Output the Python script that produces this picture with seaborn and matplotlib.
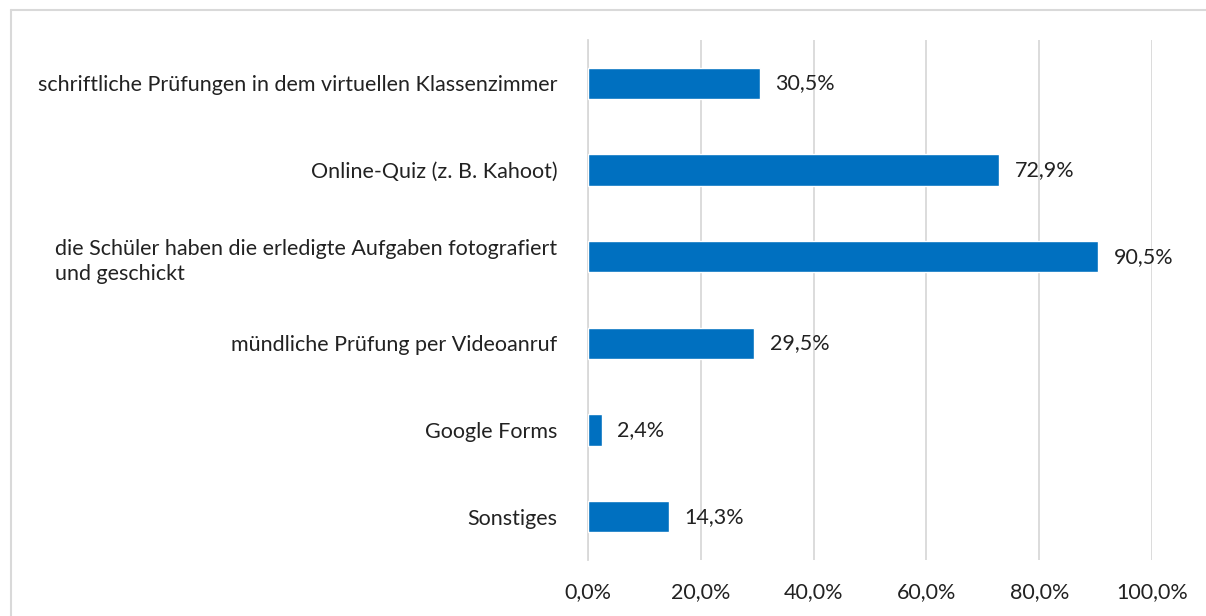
import matplotlib.pyplot as plt
from matplotlib.lines import Line2D
import seaborn as sns
import pandas as pd

# --- DATA ---
categories = [
    "schriftliche Prüfungen in dem virtuellen Klassenzimmer",
    "Online-Quiz (z. B. Kahoot)",
    "die Schüler haben die erledigte Aufgaben fotografiert\nund geschickt",
    "mündliche Prüfung per Videoanruf",
    "Google Forms",
    "Sonstiges",
]
values = [30.5, 72.9, 90.5, 29.5, 2.4, 14.3]
x_ticks = [0, 20, 40, 60, 80, 100]

df = pd.DataFrame({"category": categories, "value": values})

sns.set_style("white")
plt.rcParams['font.family'] = ['Lato', 'DejaVu Sans']
FS = 15.5

fig = plt.figure(figsize=(12.06, 6.16), dpi=100)
ax = fig.add_axes([588 / 1206, 56 / 616, 564 / 1206, 520 / 616])

sns.barplot(data=df, x="value", y="category", orient="h", color="#0070C0",
            width=0.36, saturation=1, ax=ax, zorder=3)

# value labels with comma decimal
labels = [f"{v:.1f}%".replace(".", ",") for v in values]
ax.bar_label(ax.containers[0], labels=labels, padding=11, fontsize=FS, color="#222222")

ax.set_xlim(0, 100)
ax.set_xticks(x_ticks)
ax.set_xticklabels([f"{t:.1f}%".replace(".", ",") for t in x_ticks], fontsize=FS)
ax.tick_params(axis="x", length=0, pad=16, colors="#222222")
ax.tick_params(axis="y", length=0, pad=22, labelsize=FS, colors="#222222")
ax.grid(axis="x", color="#d9d9d9", linewidth=1.3, zorder=0)
ax.set_xlabel("")
ax.set_ylabel("")

for lab in ax.get_yticklabels():
    lab.set_multialignment("left")
    lab.set_linespacing(1.35)

for side in ["top", "right", "bottom"]:
    ax.spines[side].set_visible(False)
ax.spines["left"].set_color("#d9d9d9")
ax.spines["left"].set_linewidth(1.3)

# outer chart frame: only top and left edges are visible in the reference
fx = 11 / 1206
fy = 1 - 10 / 616
fig.lines.append(Line2D([fx, 1.0], [fy, fy], transform=fig.transFigure,
                        color="#d9d9d9", linewidth=1.5))
fig.lines.append(Line2D([fx, fx], [0.0, fy], transform=fig.transFigure,
                        color="#d9d9d9", linewidth=1.5))

plt.savefig("out.png", dpi=100)
